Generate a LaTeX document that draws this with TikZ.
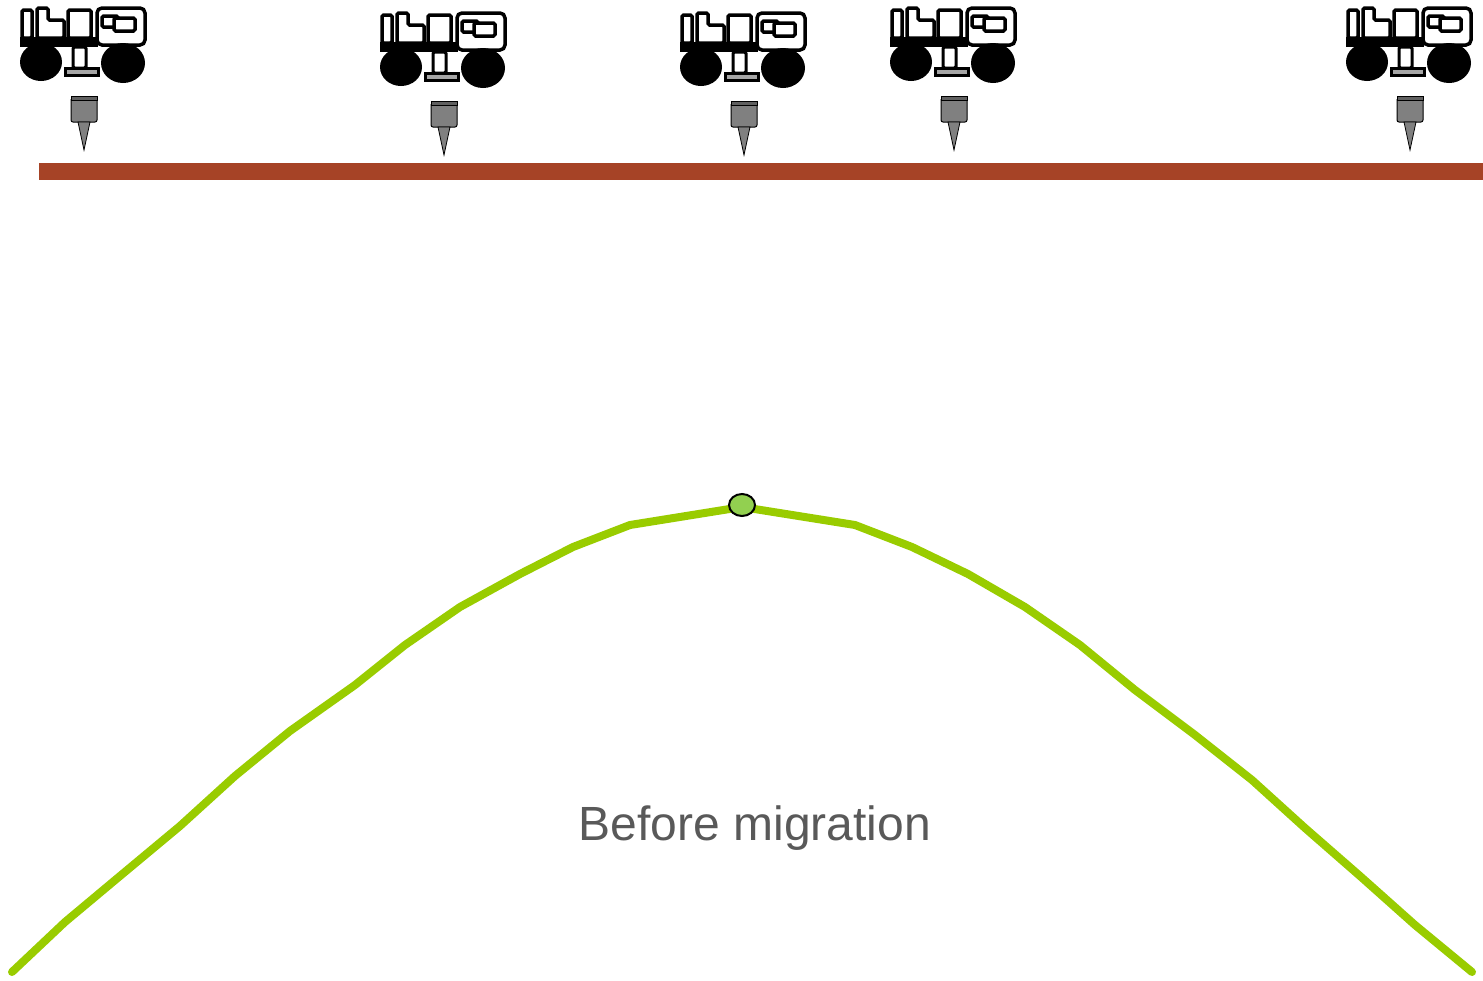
\documentclass[tikz,border=0pt]{standalone}
\usepackage{fontspec}
\setmainfont{Liberation Sans}
\usetikzlibrary{shapes.geometric}
\definecolor{rockred}{RGB}{166,67,38}
\definecolor{horizon}{RGB}{153,204,0}
\definecolor{pointgreen}{RGB}{146,208,80}
\definecolor{labelgray}{RGB}{89,89,89}
\definecolor{phonegray}{RGB}{128,128,128}
\definecolor{capgray}{RGB}{96,96,96}
\tikzset{
  x=1pt, y=-1pt,
  part/.style={draw=black, line width=3.5pt, fill=white, rounded corners=1.5pt},
  % vibroseis truck, origin at its centre line and top edge
  truck/.pic={
    \fill[black] (-64,29) rectangle (14,39);
    \draw[part] (-62,2) rectangle (-52,30);
    \draw[part] (-47,0) -- (-36,0) -- (-36,12) -- (-20,12) -- (-20,30) -- (-47,30) -- cycle;
    \draw[part] (-16,2) rectangle (7,30);
    \draw[part, rounded corners=5pt] (13,0) rectangle (61,37);
    \draw[part] (18,8) rectangle (34,19);
    \draw[part] (30,10) rectangle (51,23);
    \fill[black] (-43,54) ellipse [x radius=21, y radius=19];
    \fill[black] (39,55) ellipse [x radius=22, y radius=20];
    \draw[part, line width=3pt] (-11,39) rectangle (2,60);
    \draw[draw=black, line width=3pt, fill=gray!70] (-19,60) rectangle (14,67);
  },
  % geophone, origin at its centre line and top edge
  geophone/.pic={
    \draw[black, line width=1pt, fill=phonegray, rounded corners=2pt]
      (-13,3) -- (-13,26) -- (13,26) -- (13,3);
    \draw[black, line width=1pt, fill=capgray] (-13,0) rectangle (13,4);
    \draw[black, line width=0.8pt, fill=phonegray] (-6,26) -- (6,26) -- (0,54) -- cycle;
  },
  horizonline/.style={draw=horizon, line width=8pt, line cap=round, line join=round},
  reflpoint/.style={ellipse, draw=black, line width=2pt, fill=pointgreen,
    minimum width=26pt, minimum height=22pt, inner sep=0pt},
  caption/.style={text=labelgray, font=\fontsize{48}{56}\selectfont, inner sep=0pt}
}
\begin{document}
\begin{tikzpicture}
\useasboundingbox (0,0) rectangle (1483,980);

% source trucks and receivers along the surface
\pic (t1) at (84,8) {truck};
\pic (t2) at (444,13) {truck};
\pic (t3) at (744,13) {truck};
\pic (t4) at (954,8) {truck};
\pic (t5) at (1410,8) {truck};

\pic (g1) at (84,96) {geophone};
\pic (g2) at (444,101) {geophone};
\pic (g3) at (744,101) {geophone};
\pic (g4) at (954,96) {geophone};
\pic (g5) at (1410,96) {geophone};

% surface layer
\fill[rockred] (39,163) rectangle (1483,180);

% diffraction hyperbola
\draw[horizonline] (12,972) -- (65,922) -- (120,876) -- (180,826) -- (235,776)
  -- (290,731) -- (355,685) -- (405,645) -- (460,607) -- (520,574) -- (573,547)
  -- (630,525) -- (742,507) -- (855,525) -- (912,547) -- (968,574) -- (1025,607)
  -- (1080,645) -- (1135,690) -- (1195,735) -- (1252,780) -- (1305,828)
  -- (1360,876) -- (1415,925) -- (1472,972);

\node[reflpoint] (apex) at (742,505) {};

\node[caption, anchor=base] (label) at (755,840) {Before migration};
\end{tikzpicture}
\end{document}
